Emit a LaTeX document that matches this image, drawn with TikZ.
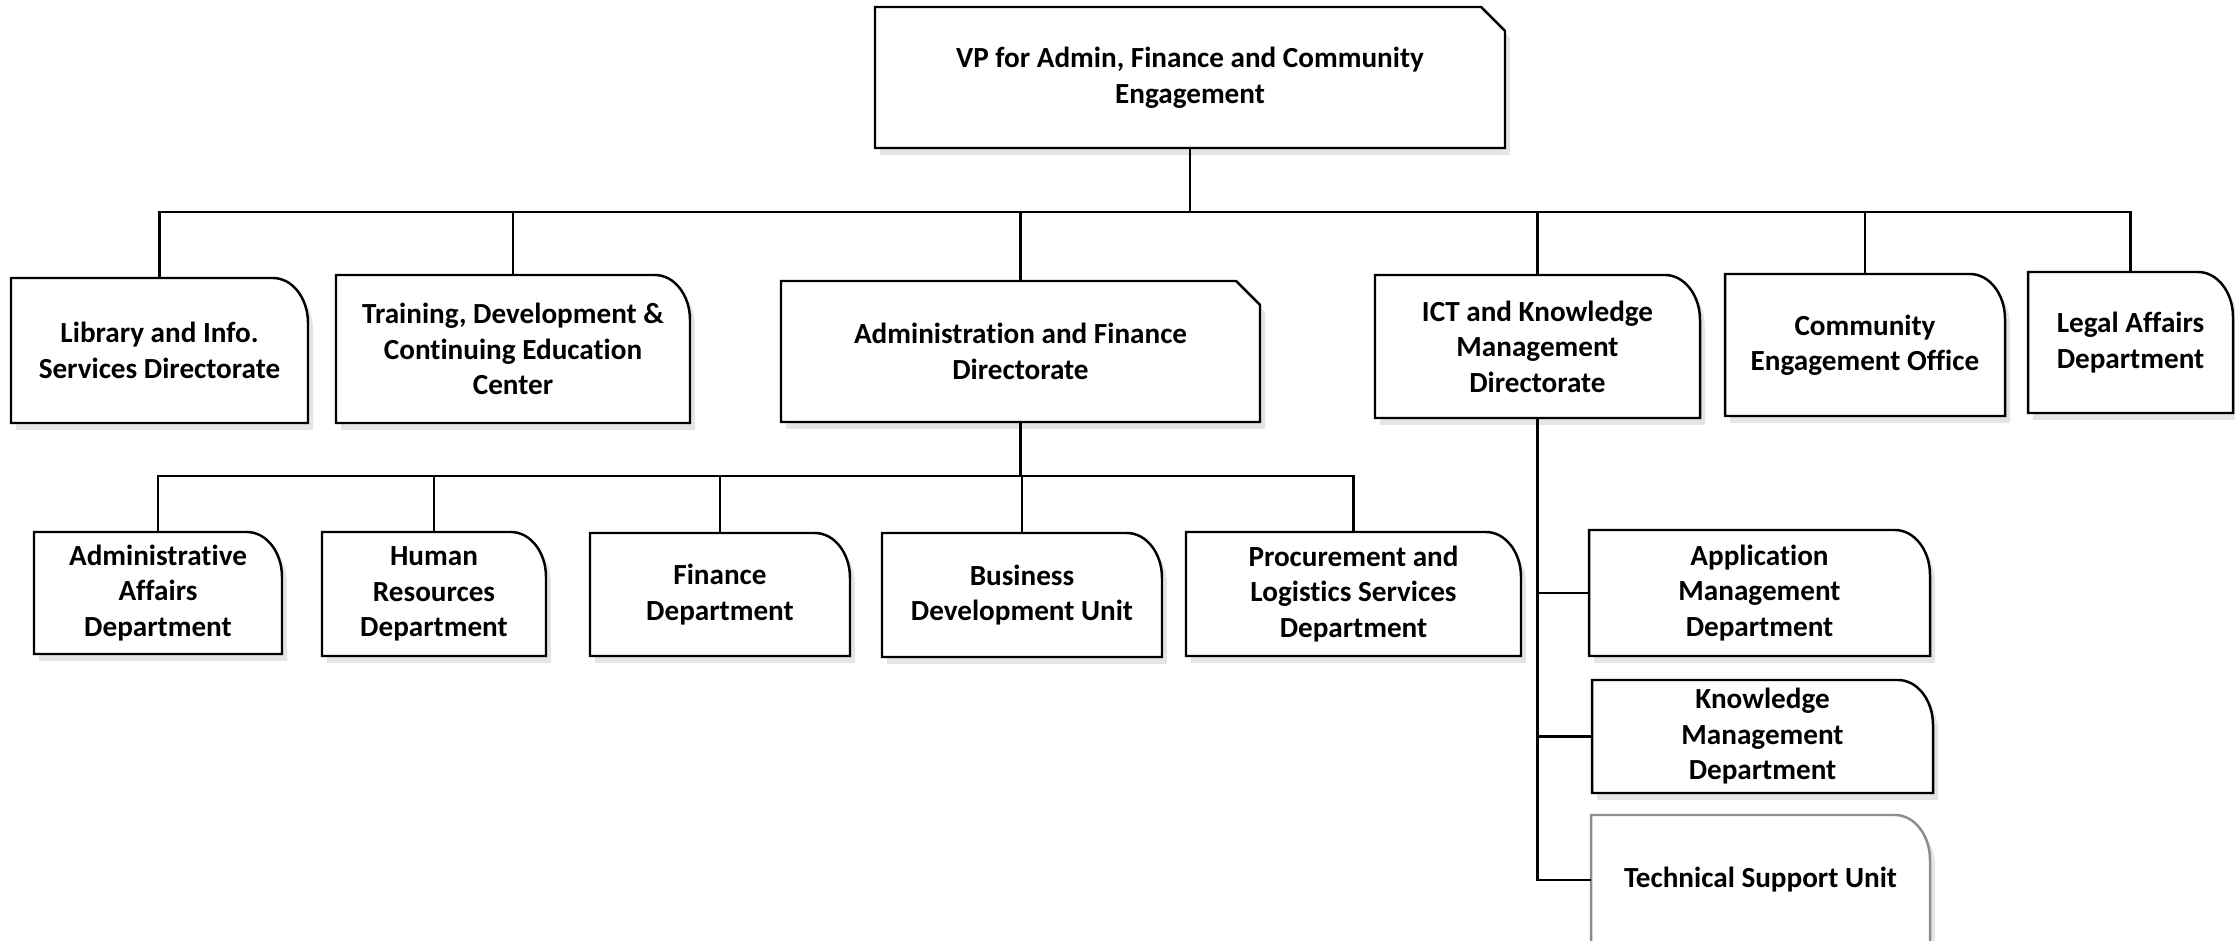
\documentclass[tikz,border=0pt]{standalone}
\usepackage{fontspec}
\setmainfont{Carlito}[Ligatures=NoCommon]
\usetikzlibrary{backgrounds}

\tikzset{
  unit/.style={inner sep=0pt, outer sep=0pt, align=center,
    font=\bfseries\fontsize{8.3}{10.1}\selectfont},
  boxline/.style={line width=0.7pt, fill=white},
  shade/.style={fill=black!10},
  link/.style={line width=0.6pt},
}

% outline with a rounded top right corner
\newcommand{\roundbox}[2][black]{%
  \fill[shade] ([xshift=0.5mm,yshift=-0.7mm]#2.south west) -- ([xshift=0.5mm,yshift=-0.7mm]#2.north west)
    -- ([xshift=-3mm,yshift=-0.7mm]#2.north east) arc[start angle=90,end angle=0,x radius=3.5mm,y radius=4.5mm]
    -- ([xshift=0.5mm,yshift=-0.7mm]#2.south east) -- cycle;
  \draw[boxline,draw=#1] (#2.south west) -- (#2.north west)
    -- ([xshift=-3.5mm]#2.north east) arc[start angle=90,end angle=0,x radius=3.5mm,y radius=4.5mm]
    -- (#2.south east) -- cycle;}
% outline with a cut top right corner
\newcommand{\snipbox}[1]{%
  \fill[shade] ([xshift=0.5mm,yshift=-0.7mm]#1.south west) -- ([xshift=0.5mm,yshift=-0.7mm]#1.north west)
    -- ([xshift=-1.9mm,yshift=-0.7mm]#1.north east) -- ([xshift=0.5mm,yshift=-3.1mm]#1.north east)
    -- ([xshift=0.5mm,yshift=-0.7mm]#1.south east) -- cycle;
  \draw[boxline] (#1.south west) -- (#1.north west) -- ([xshift=-2.4mm]#1.north east)
    -- ([yshift=-2.4mm]#1.north east) -- (#1.south east) -- cycle;}

\begin{document}
\begin{tikzpicture}[x=0.1mm,y=-0.1mm]
    \useasboundingbox (0,0) rectangle (2235,941);
    \clip (0,0) rectangle (2235,941);
    % Vice president
    \node[unit, minimum width=63mm, minimum height=14.1mm] (vp) at (1190,77.5) {VP for Admin, Finance and Community\\Engagement};
    % Directorates
    \node[unit, minimum width=29.7mm, minimum height=14.5mm] (lib) at (159.5,350.5) {Library and Info.\\Services Directorate};
    \node[unit, minimum width=35.4mm, minimum height=14.8mm] (trn) at (513,349) {Training, Development \&\\Continuing Education\\Center};
    \node[unit, minimum width=47.9mm, minimum height=14.1mm] (adf) at (1020.5,351.5) {Administration and Finance\\Directorate};
    \node[unit, minimum width=32.5mm, minimum height=14.3mm] (ict) at (1537.5,346.5) {ICT and Knowledge\\Management\\Directorate};
    \node[unit, minimum width=28mm, minimum height=14.2mm] (com) at (1865,345) {Community\\Engagement Office};
    \node[unit, minimum width=20.5mm, minimum height=14.1mm] (leg) at (2130.5,342.5) {Legal Affairs\\Department};
    % Departments under administration and finance
    \node[unit, minimum width=24.8mm, minimum height=12.2mm] (aad) at (158,593) {Administrative\\Affairs\\Department};
    \node[unit, minimum width=22.4mm, minimum height=12.4mm] (hrd) at (434,594) {Human\\Resources\\Department};
    \node[unit, minimum width=26mm, minimum height=12.3mm] (fin) at (720,594.5) {Finance\\Department};
    \node[unit, minimum width=28mm, minimum height=12.4mm] (bdu) at (1022,595) {Business\\Development Unit};
    \node[unit, minimum width=33.5mm, minimum height=12.4mm] (prc) at (1353.5,594) {Procurement and\\Logistics Services\\Department};
    % Units under ICT
    \node[unit, minimum width=34.1mm, minimum height=12.6mm] (app) at (1759.5,593) {Application\\Management\\Department};
    \node[unit, minimum width=34.1mm, minimum height=11.3mm] (kmd) at (1762.5,736.5) {Knowledge\\Management\\Department};
    \node[unit, minimum width=33.9mm, minimum height=13mm] (tsu) at (1760.5,880) {Technical Support Unit};
    % Box outlines
    \begin{pgfonlayer}{background}
    \snipbox{vp}
    \snipbox{adf}
    \foreach \n in {lib,trn,ict,com,leg,aad,hrd,fin,bdu,prc,app,kmd}{\roundbox{\n}}
    \roundbox[black!45]{tsu}
    \end{pgfonlayer}
    % Lines
    \coordinate (bus1) at (1190,212);
    \coordinate (bus2) at (1020.5,476);
    \draw[link] (vp.south) -- (bus1);
    \foreach \n in {lib,trn,adf,ict,com,leg}{\draw[link] (bus1) -| (\n.north);}
    \draw[link] (adf.south) -- (bus2);
    \foreach \n in {aad,hrd,fin,bdu,prc}{\draw[link] (bus2) -| (\n.north);}
    \foreach \n in {app,kmd,tsu}{\draw[link] (ict.south) |- (\n.west);}
\end{tikzpicture}
\end{document}
